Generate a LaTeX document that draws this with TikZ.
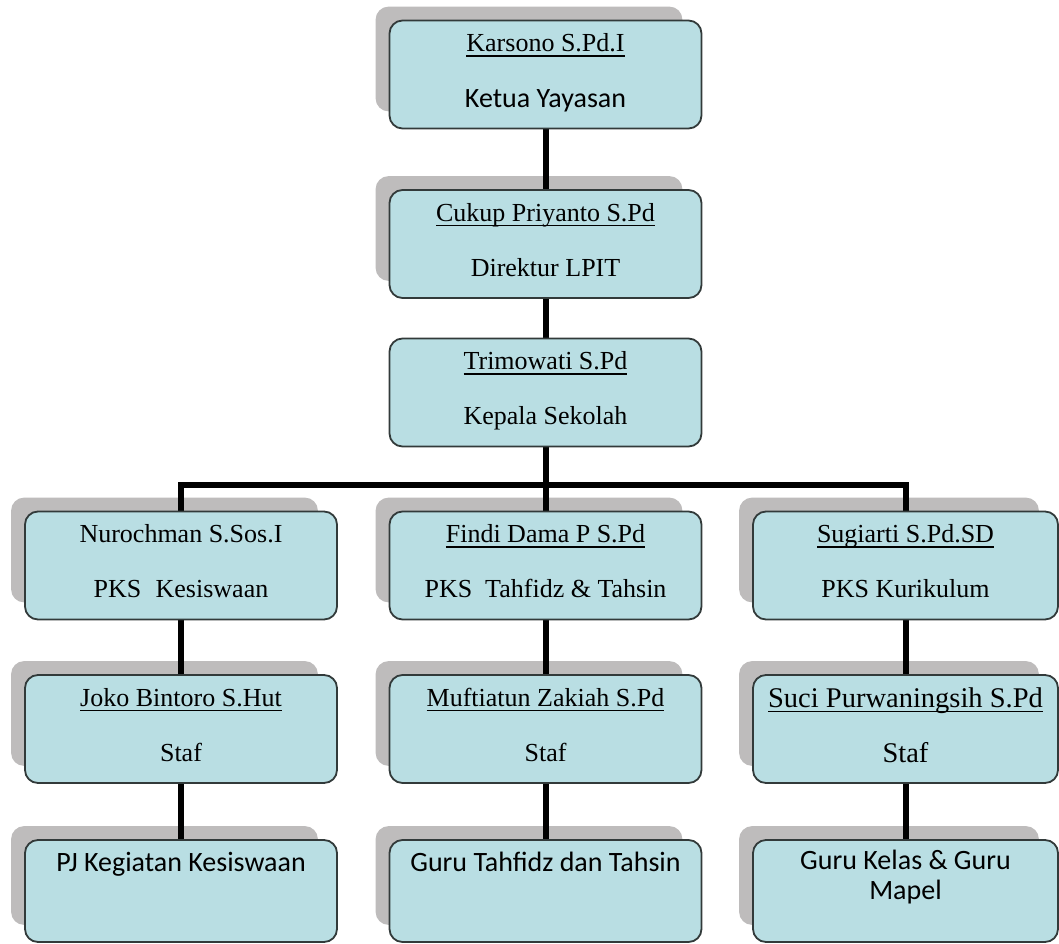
\documentclass[tikz,border=0pt]{standalone}
\usepackage{fontspec}
\setmainfont{Liberation Serif}
\newfontfamily\calfont{Carlito}
\usetikzlibrary{calc}
\definecolor{boxc}{RGB}{185,222,227}
\definecolor{bordc}{RGB}{50,58,58}
\definecolor{shadc}{RGB}{190,188,188}
\newcommand\uln[1]{\setbox0\hbox{#1}\rlap{\rule[-5pt]{\wd0}{1.6pt}}\box0}
\pgfdeclarelayer{back}
\pgfdeclarelayer{mid}
\pgfsetlayers{back,mid,main}
\tikzset{
  orgbox/.style={draw=bordc, fill=boxc, line width=1.8pt, rounded corners=13pt,
    minimum width=312pt, minimum height=108pt, inner sep=0pt},
  serif/.style={anchor=base, inner sep=0pt, font=\fontsize{26}{30}\selectfont},
  bigserif/.style={anchor=base, inner sep=0pt, font=\fontsize{28.5}{32}\selectfont},
  sanstext/.style={anchor=base, inner sep=0pt, font=\calfont\fontsize{28}{32}\selectfont},
  conn/.style={line width=6pt, black, line join=miter},
  shad/.style={fill=shadc, rounded corners=13pt}
}
\newcommand\shadow[1]{\begin{pgfonlayer}{back}\fill[shad] ($(#1.north west)+(-13,-13)$) rectangle ($(#1.south east)+(-20,-18)$);\end{pgfonlayer}}
\begin{document}
\begin{tikzpicture}[x=1pt,y=-1pt]
\useasboundingbox (0,0) rectangle (1059,944);
% level 1-3
\node[orgbox] (k) at (545.5,74.5) {};
\node[orgbox] (c) at (545.5,244) {};
\node[orgbox] (t) at (545.5,392.5) {};
% level 4
\node[orgbox] (n4) at (181,565.5) {};
\node[orgbox] (f4) at (545.5,565.5) {};
\node[orgbox, minimum width=305pt] (s4) at (905.5,565.5) {};
% level 5
\node[orgbox] (j5) at (181,729) {};
\node[orgbox] (m5) at (545.5,729) {};
\node[orgbox, minimum width=305pt] (u5) at (905.5,729) {};
% level 6
\node[orgbox, minimum height=102pt] (p6) at (181,891) {};
\node[orgbox, minimum height=102pt] (g6) at (545.5,891) {};
\node[orgbox, minimum width=305pt, minimum height=102pt] (r6) at (905.5,891) {};

\shadow{k}\shadow{c}
\shadow{n4}\shadow{f4}\shadow{s4}
\shadow{j5}\shadow{m5}\shadow{u5}
\shadow{p6}\shadow{g6}\shadow{r6}

% texts
\node[serif] (kn) at ($(k.north)+(0,32)$) {\uln{Karsono S.Pd.I}};
\node[sanstext] (kr) at ($(k.north)+(0,88)$) {Ketua Yayasan};
\node[serif] (cn) at ($(c.north)+(0,32)$) {\uln{Cukup Priyanto S.Pd}};
\node[serif] (cr) at ($(c.north)+(0,87)$) {Direktur LPIT};
\node[serif] (tn) at ($(t.north)+(0,32)$) {\uln{Trimowati S.Pd}};
\node[serif] (tr) at ($(t.north)+(0,87)$) {Kepala Sekolah};

\node[serif] (n4n) at ($(n4.north)+(0,32)$) {Nurochman S.Sos.I};
\node[serif] (n4r) at ($(n4.north)+(0,87)$) {PKS\hspace{0.55em}Kesiswaan};
\node[serif] (f4n) at ($(f4.north)+(0,32)$) {\uln{Findi Dama P S.Pd}};
\node[serif] (f4r) at ($(f4.north)+(0,87)$) {PKS\hspace{0.5em}Tahfidz \& Tahsin};
\node[serif] (s4n) at ($(s4.north)+(0,32)$) {\uln{Sugiarti S.Pd.SD}};
\node[serif] (s4r) at ($(s4.north)+(0,87)$) {PKS Kurikulum};

\node[serif] (j5n) at ($(j5.north)+(0,32)$) {\uln{Joko Bintoro S.Hut}};
\node[serif] (j5r) at ($(j5.north)+(0,87)$) {Staf};
\node[serif] (m5n) at ($(m5.north)+(0,32)$) {\uln{Muftiatun Zakiah S.Pd}};
\node[serif] (m5r) at ($(m5.north)+(0,87)$) {Staf};
\node[bigserif] (u5n) at ($(u5.north)+(0,33)$) {\uln{Suci Purwaningsih S.Pd}};
\node[bigserif] (u5r) at ($(u5.north)+(0,88)$) {Staf};

\node[sanstext] (p6t) at ($(p6.north)+(0,32)$) {PJ Kegiatan Kesiswaan};
\node[sanstext] (g6t) at ($(g6.north)+(0,32)$) {Guru Tahfidz dan Tahsin};
\node[sanstext] (r6a) at ($(r6.north)+(0,30)$) {Guru Kelas \& Guru};
\node[sanstext] (r6b) at ($(r6.north)+(0,60)$) {Mapel};

% connectors
\coordinate (hb) at (545.5,485);
\begin{pgfonlayer}{mid}
\draw[conn] (k.south) -- (c.north);
\draw[conn] (c.south) -- (t.north);
\draw[conn] (t.south) -- (hb);
\draw[conn] (n4.north) -- (n4.north |- hb) -- (s4.north |- hb) -- (s4.north);
\draw[conn] (hb) -- (f4.north);
\draw[conn] (n4.south) -- (j5.north);
\draw[conn] (f4.south) -- (m5.north);
\draw[conn] (s4.south) -- (u5.north);
\draw[conn] (j5.south) -- (p6.north);
\draw[conn] (m5.south) -- (g6.north);
\draw[conn] (u5.south) -- (r6.north);
\end{pgfonlayer}
\end{tikzpicture}
\end{document}
